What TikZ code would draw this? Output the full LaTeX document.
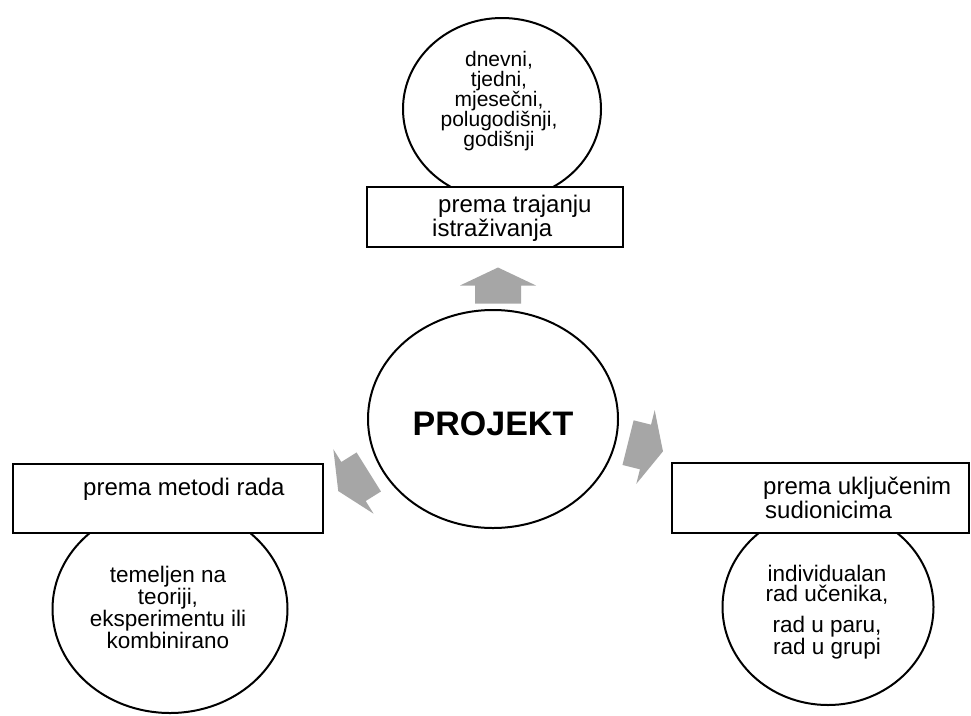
\documentclass[tikz,border=0pt]{standalone}
\usepackage{fontspec}
\setmainfont{Liberation Sans}
\usetikzlibrary{shapes.geometric}

\definecolor{arrowgray}{HTML}{A6A6A6}

\tikzset{
    blockarrow/.pic={
        \fill[arrowgray] (-18, -23) -- (0, -23) -- (0, -38) -- (18, 0)
            -- (0, 38) -- (0, 23) -- (-18, 23) -- cycle;
    }
}

\begin{document}
\begin{tikzpicture}[x=1pt, y=-1pt,
    bubble/.style={ellipse, draw, line width=2pt, inner sep=0pt},
    catbox/.style={rectangle, draw, line width=2.2pt, fill=white, inner sep=0pt},
    bubbletext/.style={align=center, inner sep=0pt},
    boxtext/.style={align=left, anchor=west, inner sep=0pt, font=\fontsize{24}{24}\selectfont}]
    \useasboundingbox[fill=white] (0, 0) rectangle (971, 715);

    % ellipses first, boxes cover them
    \node[bubble, minimum width=250, minimum height=218, text height=34,
        font=\fontsize{34}{34}\selectfont\bfseries] (projekt) at (493, 419) {PROJEKT};
    \node[bubble, minimum width=198, minimum height=182] (trajanje) at (502, 109) {};
    \node[bubble, minimum width=235, minimum height=208] (metoda) at (170, 609) {};
    \node[bubble, minimum width=211, minimum height=196] (sudionici) at (828, 607) {};

    \node[catbox, minimum width=256, minimum height=60] (trajanjebox) at (495, 217) {};
    \node[catbox, minimum width=310, minimum height=69] (metodabox) at (168, 498.5) {};
    \node[catbox, minimum width=297, minimum height=70] (sudionicibox) at (820.5, 498) {};

    \node[boxtext] (trajanjelbl) at (432, 218.4) {\hspace*{6pt}prema trajanju\\istraživanja};
    \node[boxtext] (metodalbl) at (83, 489) {prema metodi rada};
    \node[boxtext] (sudionicilbl) at (763, 498) {prema uključenim\\\hspace*{2pt}sudionicima};

    \node[bubbletext, font=\fontsize{21}{20}\selectfont] (trajanjetxt) at (499, 101)
        {dnevni,\\tjedni,\\mjesečni,\\polugodišnji,\\godišnji};
    \node[bubbletext, font=\fontsize{22.5}{20}\selectfont] (metodatxt) at (168, 607)
        {temeljen na\\teoriji,\\eksperimentu ili\\kombinirano};
    \node[bubbletext, font=\fontsize{22.5}{20.5}\selectfont] (sudionicitxt) at (827, 612)
        {individualan\\rad učenika,\\[10pt]rad u paru,\\rad u grupi};

    \pic[rotate=90] (gore) at (498, 285.5) {blockarrow};
    \pic[rotate=-14] (desno) at (645.5, 447) {blockarrow};
    \pic[rotate=-148] (lijevo) at (353.5, 481.5) {blockarrow};
\end{tikzpicture}
\end{document}
